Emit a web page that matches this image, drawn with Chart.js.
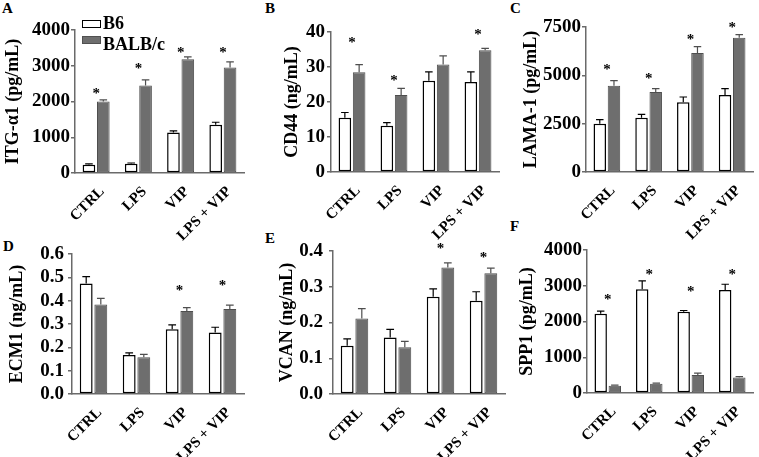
<!DOCTYPE html>
<html>
<head>
<meta charset="utf-8">
<script src="https://cdn.jsdelivr.net/npm/chart.js@4"></script>
<style>
  body { margin:0; background:#fff; width:759px; height:457px; overflow:hidden; position:relative;
         font-family:"Liberation Serif","Times New Roman",serif; font-weight:bold; color:#000; }
  canvas { position:absolute; }
  .letter { position:absolute; font-size:15px; line-height:15px; }
  .key { position:absolute; width:17px; height:6px; }
  .keytxt { position:absolute; font-size:18px; line-height:18px; }
</style>
</head>
<body>
<div class="letter" style="left:2px;top:1px">A</div>
<div class="letter" style="left:265px;top:1px">B</div>
<div class="letter" style="left:510px;top:1px">C</div>
<div class="letter" style="left:3px;top:239px">D</div>
<div class="letter" style="left:265px;top:231px">E</div>
<div class="letter" style="left:510px;top:219px">F</div>

<canvas id="cA"></canvas>
<canvas id="cB"></canvas>
<canvas id="cC"></canvas>
<canvas id="cD"></canvas>
<canvas id="cE"></canvas>
<canvas id="cF"></canvas>

<div class="key" style="left:82px;top:20px;background:#fff;border:1.5px solid #000"></div>
<div class="keytxt" style="left:103px;top:14px">B6</div>
<div class="key" style="left:82px;top:36px;background:#6e6e6e;border:1px solid #505050"></div>
<div class="keytxt" style="left:103px;top:35px">BALB/c</div>

<script>
// categories and series
const categories = ['CTRL', 'LPS', 'VIP', 'LPS + VIP'];
const seriesNames = ['B6', 'BALB/c'];

// A  ITG-α1 (pg/mL)
const itgB6 = [233, 260, 1135, 1349];
const itgB6Err = [20, 20, 45, 70];
const itgBalb = [2000, 2447, 3181, 2949];
const itgBalbErr = [45, 160, 65, 160];
const itgStars = [2280, 2977, 3442, 3442];
const itgTicks = [0, 1000, 2000, 3000, 4000];

// B  CD44 (ng/mL)
const cd44B6 = [15.5, 13.2, 26.1, 25.7];
const cd44B6Err = [1.5, 0.9, 2.5, 2.9];
const cd44Balb = [28.5, 22.0, 30.7, 34.8];
const cd44BalbErr = [2.2, 1.9, 2.5, 0.5];
const cd44Stars = [37.6, 26.7, null, 40.0];
const cd44Ticks = [0, 10, 20, 30, 40];

// C  LAMA-1 (pg/mL)
const lamaB6 = [2500, 2810, 3603, 3983];
const lamaB6Err = [207, 173, 276, 327];
const lamaBalb = [4466, 4138, 6155, 6948];
const lamaBalbErr = [258, 172, 328, 155];
const lamaStars = [5431, 4966, 6983, 7620];
const lamaTicks = [0, 2500, 5000, 7500];

// D  ECM1 (ng/mL)
const ecmB6 = [0.474, 0.167, 0.277, 0.264];
const ecmB6Err = [0.029, 0.009, 0.019, 0.022];
const ecmBalb = [0.384, 0.157, 0.356, 0.364];
const ecmBalbErr = [0.026, 0.013, 0.014, 0.017];
const ecmStars = [null, null, 0.453, 0.474];
const ecmTicks = [0, 0.1, 0.2, 0.3, 0.4, 0.5, 0.6];

// E  VCAN (ng/mL)
const vcanB6 = [0.135, 0.158, 0.272, 0.261];
const vcanB6Err = [0.019, 0.023, 0.022, 0.025];
const vcanBalb = [0.211, 0.131, 0.354, 0.338];
const vcanBalbErr = [0.028, 0.016, 0.013, 0.014];
const vcanStars = [null, null, 0.414, 0.389];
const vcanTicks = [0, 0.1, 0.2, 0.3, 0.4];

// F  SPP1 (pg/mL)
const sppB6 = [2214, 2902, 2270, 2884];
const sppB6Err = [74, 233, 37, 158];
const sppBalb = [205, 260, 502, 437];
const sppBalbErr = [18, 15, 56, 19];
const sppStars = [2679, 3395, 2902, 3395];
const sppTicks = [0, 1000, 2000, 3000, 4000];

const FONT = '"Liberation Serif", "Times New Roman", serif';
const axisColor = '#6a6a6a';

// error bars (upper only) + significance stars
const errStars = {
  id: 'errStars',
  afterDatasetsDraw(chart, args, opts) {
    const ctx = chart.ctx, y = chart.scales.y, x = chart.scales.x;
    chart.data.datasets.forEach((ds, di) => {
      chart.getDatasetMeta(di).data.forEach((bar, i) => {
        const top = y.getPixelForValue(ds.data[i] + ds.err[i]);
        const w = bar.width * 0.6;
        ctx.save();
        ctx.strokeStyle = ds.borderColor;
        ctx.lineWidth = 1.2;
        ctx.beginPath();
        ctx.moveTo(bar.x, bar.y);
        ctx.lineTo(bar.x, top);
        ctx.moveTo(bar.x - w / 2, top);
        ctx.lineTo(bar.x + w / 2, top);
        ctx.stroke();
        ctx.restore();
      });
    });
    (opts.stars || []).forEach((v, i) => {
      if (v == null) return;
      ctx.save();
      ctx.font = 'bold 15px ' + FONT;
      ctx.fillStyle = '#000';
      ctx.textAlign = 'center';
      ctx.textBaseline = 'middle';
      ctx.fillText('*', x.getPixelForValue(i), y.getPixelForValue(v) + 3);
      ctx.restore();
    });
  }
};

function makePanel(p) {
  const cv = document.getElementById(p.id);
  cv.width = p.box.w; cv.height = p.box.h;
  cv.style.left = p.box.x + 'px'; cv.style.top = p.box.y + 'px';
  const ticks = p.ticks;
  return new Chart(cv, {
    type: 'bar',
    plugins: [errStars],
    data: {
      labels: categories,
      datasets: [
        { label: seriesNames[0], data: p.b6, err: p.b6Err, backgroundColor: '#ffffff', borderColor: '#000000',
          borderWidth: 1.5, borderSkipped: false, categoryPercentage: 0.68, barPercentage: 0.88 },
        { label: seriesNames[1], data: p.balb, err: p.balbErr, backgroundColor: '#6e6e6e', borderColor: '#4e4e4e',
          borderWidth: 1, borderSkipped: false, categoryPercentage: 0.68, barPercentage: 0.88 }
      ]
    },
    options: {
      responsive: false,
      animation: false,
      devicePixelRatio: 1,
      layout: { padding: { left: 0, top: p.area.t - p.box.y, right: p.box.x + p.box.w - p.area.r, bottom: 0 } },
      plugins: { legend: { display: false }, tooltip: { enabled: false }, errStars: { stars: p.stars } },
      scales: {
        x: {
          grid: { display: false },
          border: { display: true, color: axisColor, width: 1.5 },
          ticks: { color: '#000', font: { family: FONT, size: 15, weight: 'bold' },
                   minRotation: 45, maxRotation: 45, padding: 2, labelOffset: 6, autoSkip: false },
          afterFit: s => { s.height = p.box.y + p.box.h - p.area.b; }
        },
        y: {
          min: 0, max: ticks[ticks.length - 1],
          afterBuildTicks: s => { s.ticks = ticks.map(v => ({ value: v })); },
          grid: { drawOnChartArea: false, drawTicks: true, tickLength: 4, color: axisColor, lineWidth: 1.5 },
          border: { color: axisColor, width: 1.5 },
          ticks: { color: '#000', font: { family: FONT, size: 19, weight: 'bold' }, padding: p.tickPad,
                   autoSkip: false, callback: v => p.dec ? Number(v).toFixed(p.dec) : v },
          title: { display: true, text: p.title, color: '#000', font: { family: FONT, size: 18, weight: 'bold' },
                   padding: { top: p.titlePad, bottom: 0 } },
          afterFit: s => { s.width = p.area.l - p.box.x; }
        }
      }
    }
  });
}

makePanel({ id: 'cA', box: { x: 0, y: 0, w: 253, h: 250 }, area: { l: 75, t: 30, r: 244, b: 173 },
  title: 'ITG-α1 (pg/mL)', titlePad: 3, tickPad: 1, ticks: itgTicks, dec: 0,
  b6: itgB6, b6Err: itgB6Err, balb: itgBalb, balbErr: itgBalbErr, stars: itgStars });
makePanel({ id: 'cB', box: { x: 253, y: 0, w: 253, h: 250 }, area: { l: 331, t: 32, r: 499, b: 172 },
  title: 'CD44 (ng/mL)', titlePad: 29, tickPad: 2, ticks: cd44Ticks, dec: 0,
  b6: cd44B6, b6Err: cd44B6Err, balb: cd44Balb, balbErr: cd44BalbErr, stars: cd44Stars });
makePanel({ id: 'cC', box: { x: 506, y: 0, w: 253, h: 250 }, area: { l: 586, t: 27, r: 753, b: 172 },
  title: 'LAMA-1 (pg/mL)', titlePad: 15, tickPad: 1, ticks: lamaTicks, dec: 0,
  b6: lamaB6, b6Err: lamaB6Err, balb: lamaBalb, balbErr: lamaBalbErr, stars: lamaStars });
makePanel({ id: 'cD', box: { x: 0, y: 228, w: 253, h: 229 }, area: { l: 72, t: 254, r: 244, b: 394 },
  title: 'ECM1 (ng/mL)', titlePad: 7, tickPad: 4, ticks: ecmTicks, dec: 1,
  b6: ecmB6, b6Err: ecmB6Err, balb: ecmBalb, balbErr: ecmBalbErr, stars: ecmStars });
makePanel({ id: 'cE', box: { x: 253, y: 228, w: 253, h: 229 }, area: { l: 333, t: 251, r: 505, b: 394 },
  title: 'VCAN (ng/mL)', titlePad: 24, tickPad: 6, ticks: vcanTicks, dec: 1,
  b6: vcanB6, b6Err: vcanB6Err, balb: vcanBalb, balbErr: vcanBalbErr, stars: vcanStars });
makePanel({ id: 'cF', box: { x: 506, y: 228, w: 253, h: 229 }, area: { l: 587, t: 250, r: 753, b: 393 },
  title: 'SPP1 (pg/mL)', titlePad: 11, tickPad: 1, ticks: sppTicks, dec: 0,
  b6: sppB6, b6Err: sppB6Err, balb: sppBalb, balbErr: sppBalbErr, stars: sppStars });
</script>
</body>
</html>
